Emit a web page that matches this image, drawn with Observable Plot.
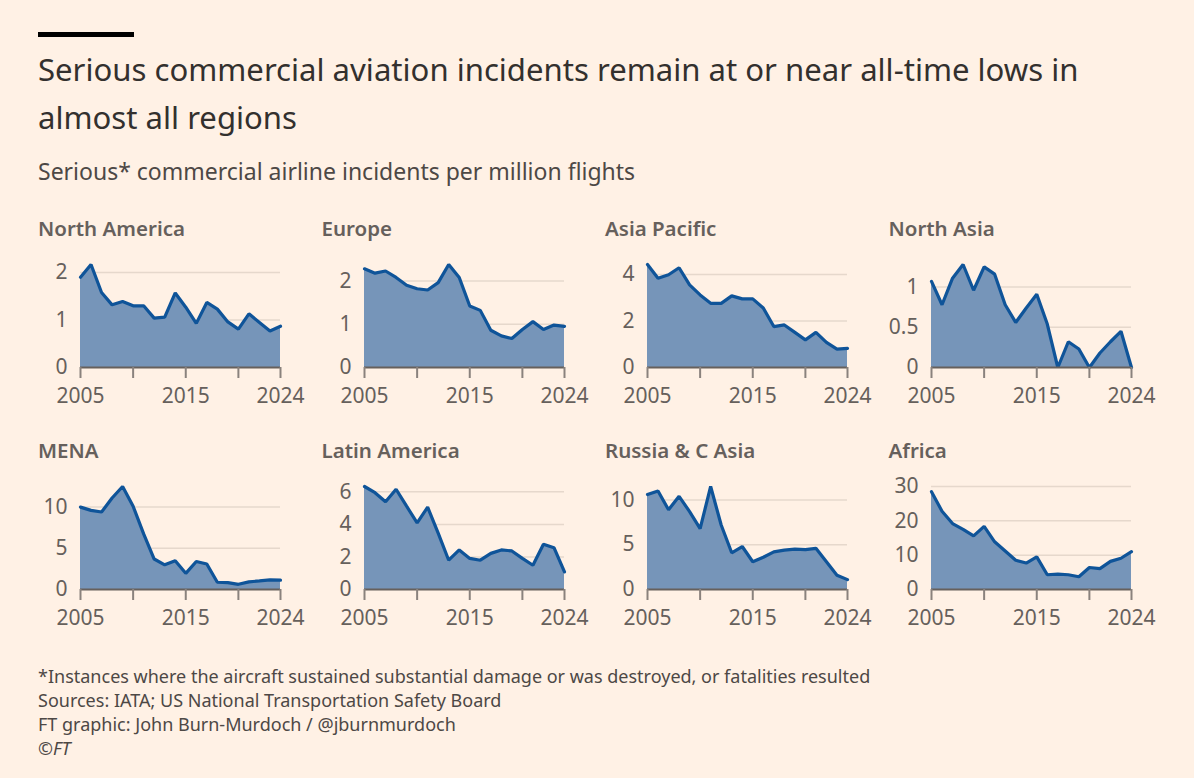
<!DOCTYPE html>
<html>
<head>
<meta charset="utf-8">
<script src="https://cdn.jsdelivr.net/npm/d3@7"></script>
<script src="https://cdn.jsdelivr.net/npm/@observablehq/plot@0.6"></script>
<style>
  html, body { margin: 0; padding: 0; background: #fff1e5; }
  body { width: 1194px; height: 778px; position: relative; overflow: hidden; font-family: "Noto Sans", sans-serif; }
  .bar { position: absolute; left: 38px; top: 32px; width: 96px; height: 5px; background: #000; }
  .title { position: absolute; left: 38px; top: 45px; font-size: 31.1px; line-height: 48px; color: #33302e; white-space: nowrap; }
  .subtitle { position: absolute; left: 38px; top: 160px; font-size: 23px; line-height: 1; color: #4d4845; white-space: nowrap; }
  .ptitle { position: absolute; font-size: 20.5px; font-weight: 600; line-height: 1; color: #66605c; white-space: nowrap; }
  .panel { position: absolute; }
  .footer { position: absolute; left: 38px; top: 664px; font-size: 18px; line-height: 24px; color: #4d4845; white-space: nowrap; }
</style>
</head>
<body>
<div class="bar"></div>
<div class="title">Serious commercial aviation incidents remain at or near all-time lows in<br>almost all regions</div>
<div class="subtitle">Serious* commercial airline incidents per million flights</div>
<div id="panels"></div>
<div class="footer">*Instances where the aircraft sustained substantial damage or was destroyed, or fatalities resulted<br>Sources: IATA; US National Transportation Safety Board<br>FT graphic: John Burn-Murdoch / @jburnmurdoch<br><i>©FT</i></div>
<script>
const years = [2005, 2006, 2007, 2008, 2009, 2010, 2011, 2012, 2013, 2014, 2015, 2016, 2017, 2018, 2019, 2020, 2021, 2022, 2023, 2024];

const regions = ["North America", "Europe", "Asia Pacific", "North Asia", "MENA", "Latin America", "Russia & C Asia", "Africa"];

const northAmerica = [1.90, 2.17, 1.58, 1.32, 1.39, 1.30, 1.30, 1.04, 1.06, 1.57, 1.27, 0.93, 1.37, 1.23, 0.96, 0.81, 1.13, 0.95, 0.77, 0.87];
const europe = [2.28, 2.18, 2.23, 2.08, 1.90, 1.82, 1.79, 1.96, 2.38, 2.08, 1.42, 1.32, 0.86, 0.73, 0.67, 0.88, 1.06, 0.88, 0.98, 0.95];
const asiaPacific = [4.43, 3.84, 3.99, 4.29, 3.55, 3.12, 2.76, 2.76, 3.08, 2.95, 2.95, 2.56, 1.76, 1.83, 1.51, 1.19, 1.51, 1.08, 0.79, 0.82];
const northAsia = [1.07, 0.78, 1.11, 1.28, 0.96, 1.25, 1.16, 0.78, 0.56, 0.74, 0.91, 0.54, 0.00, 0.32, 0.23, 0.00, 0.18, 0.32, 0.45, 0.00];
const mena = [10.0, 9.6, 9.4, 11.1, 12.5, 10.1, 6.75, 3.7, 3.0, 3.5, 1.96, 3.4, 3.1, 0.88, 0.83, 0.63, 0.92, 1.04, 1.17, 1.13];
const latinAmerica = [6.33, 5.95, 5.39, 6.16, 5.12, 4.09, 5.06, 3.46, 1.80, 2.43, 1.91, 1.80, 2.22, 2.43, 2.37, 1.91, 1.49, 2.78, 2.57, 1.08];
const russiaCAsia = [10.6, 11.0, 8.9, 10.4, 8.7, 6.8, 11.5, 7.2, 4.1, 4.8, 3.1, 3.6, 4.2, 4.4, 4.5, 4.45, 4.6, 3.1, 1.6, 1.1];
const africa = [28.5, 22.8, 19.2, 17.5, 15.6, 18.4, 13.9, 11.2, 8.5, 7.7, 9.5, 4.3, 4.5, 4.3, 3.7, 6.4, 6.1, 8.2, 9.1, 11.0];

const seriesValues = [northAmerica, europe, asiaPacific, northAsia, mena, latinAmerica, russiaCAsia, africa];

const yTicks = [[0, 1, 2], [0, 1, 2], [0, 2, 4], [0, 0.5, 1], [0, 5, 10], [0, 2, 4, 6], [0, 5, 10], [0, 10, 20, 30]];
const xTicks = [2005, 2010, 2015, 2020, 2024];
const xLabels = [2005, 2015, 2024];

const ink = "#66605c";
const container = document.getElementById("panels");

regions.forEach((name, i) => {
  const col = i % 4, row = Math.floor(i / 4);
  const left = 38 + col * 283.5;
  const rowOffset = row * 222;

  const t = document.createElement("div");
  t.className = "ptitle";
  t.style.left = left + "px";
  t.style.top = (218 + rowOffset) + "px";
  t.textContent = name;
  container.appendChild(t);

  const data = years.map((year, k) => ({year, value: seriesValues[i][k]}));
  const ticks = yTicks[i];
  const yMax = Math.max(d3.max(seriesValues[i]), d3.max(ticks));

  const chart = Plot.plot({
    width: 283,
    height: 151,
    marginLeft: 42,
    marginRight: 41,
    marginTop: 8,
    marginBottom: 40,
    style: {background: "transparent", fontFamily: "Noto Sans, sans-serif", fontSize: "21px", color: ink, overflow: "visible"},
    x: {domain: [2005, 2024]},
    y: {domain: [0, yMax]},
    marks: [
      Plot.ruleY(ticks.filter(d => d > 0), {stroke: "#e6d8cc", strokeWidth: 1.5}),
      Plot.areaY(data, {x: "year", y: "value", fill: "#7695b9"}),
      Plot.lineY(data, {x: "year", y: "value", stroke: "#0f5499", strokeWidth: 3.2, strokeLinejoin: "miter"}),
      Plot.ruleY([0], {stroke: ink, strokeWidth: 2}),
      Plot.axisY({ticks, tickSize: 0, tickPadding: 13, tickFormat: d => String(d), label: null}),
      Plot.axisX({ticks: xTicks, tickSize: 11, tickPadding: 10, strokeWidth: 2, stroke: "#8a827d",
        tickFormat: d => xLabels.includes(d) ? String(d) : "", label: null})
    ]
  });
  const wrap = document.createElement("div");
  wrap.className = "panel";
  wrap.style.left = left + "px";
  wrap.style.top = (256 + rowOffset) + "px";
  wrap.appendChild(chart);
  container.appendChild(wrap);
});
</script>
</body>
</html>
